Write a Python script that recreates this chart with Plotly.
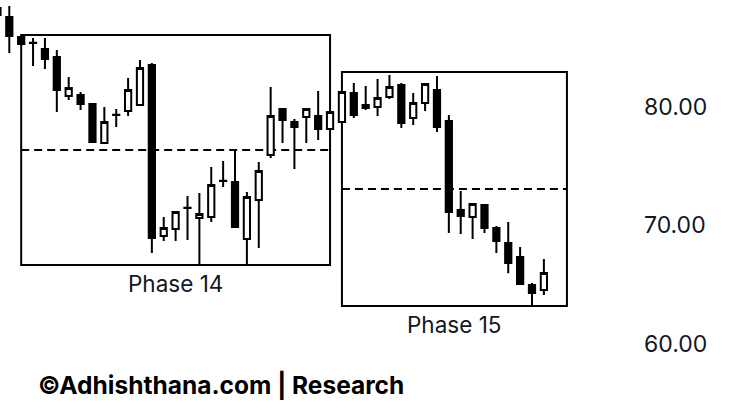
import plotly.graph_objects as go

# ---- data ----
bar_index = list(range(0, 47))
opens = [88.31, 87.55, 85.86, 85.38, 84.85, 84.18, 80.89, 80.97, 80.21, 76.92,
         79.30, 79.62, 80.13, 83.50, 69.07, 69.66, 71.45, 70.59, 70.68, 73.73,
         73.63, 68.82, 72.11, 75.91, 79.79, 78.69, 79.11, 79.20, 78.10, 78.69,
         81.14, 80.13, 79.96, 80.80, 81.81, 79.03, 80.30, 81.39, 78.78, 71.27,
         70.68, 71.69, 69.75, 68.48, 67.30, 64.94, 64.51]
highs = [89.30, 88.48, 85.90, 85.78, 85.78, 84.77, 82.49, 81.22, 80.30, 79.96,
         79.79, 82.41, 83.92, 83.67, 70.68, 71.18, 72.45, 72.70, 74.89, 75.40,
         76.33, 72.78, 75.32, 81.65, 79.79, 78.95, 79.87, 81.31, 79.54, 81.22,
         81.98, 81.73, 82.32, 82.66, 81.98, 81.14, 81.98, 82.57, 79.28, 72.87,
         71.86, 71.69, 69.92, 70.25, 68.14, 65.11, 67.13]
lows = [87.50, 84.51, 85.20, 83.42, 83.16, 79.54, 80.55, 79.70, 76.92, 76.92,
        78.27, 79.20, 80.13, 67.64, 68.65, 68.65, 68.73, 66.62, 70.25, 73.21,
        69.75, 66.62, 68.06, 75.65, 76.92, 74.73, 76.92, 77.17, 78.10, 78.69,
        79.03, 79.70, 79.20, 80.63, 78.19, 78.44, 79.62, 77.85, 69.32, 69.24,
        68.82, 69.32, 67.64, 65.94, 65.02, 63.14, 64.09]
closes = [87.72, 85.95, 85.27, 85.36, 84.01, 81.39, 81.56, 80.21, 77.00, 78.69,
          79.28, 81.39, 83.25, 68.90, 69.75, 71.10, 71.43, 70.93, 73.38, 73.71,
          69.83, 72.36, 74.56, 79.20, 78.86, 78.27, 79.79, 78.10, 79.54, 81.22,
          79.28, 79.87, 80.72, 81.65, 78.61, 80.30, 81.90, 78.27, 71.10, 70.76,
          71.77, 69.75, 68.65, 66.79, 65.02, 64.26, 65.95]

phase_names = ["Phase 14", "Phase 15"]
phase_start = [2, 29]
phase_end = [28, 47.94]
phase_low = [66.62, 63.16]
phase_high = [86.03, 82.91]

y_ticks = [60, 70, 80]
y_tick_labels = ["60.00", "70.00", "80.00"]
watermark = "©Adhishthana.com | Research"

fig = go.Figure()
fig.add_trace(go.Candlestick(
    x=bar_index, open=opens, high=highs, low=lows, close=closes,
    increasing=dict(line=dict(color="black", width=2), fillcolor="white"),
    decreasing=dict(line=dict(color="black", width=2), fillcolor="black"),
    whiskerwidth=0, showlegend=False, hoverinfo="skip",
))

shapes = []
annotations = []
for name, x0, x1, lo, hi in zip(phase_names, phase_start, phase_end, phase_low, phase_high):
    shapes.append(dict(type="rect", xref="x", yref="y", x0=x0, x1=x1, y0=lo, y1=hi,
                       line=dict(color="black", width=2), fillcolor="rgba(0,0,0,0)",
                       layer="below"))
    mid = (lo + hi) / 2
    shapes.append(dict(type="line", xref="x", yref="y", x0=x0, x1=x1, y0=mid, y1=mid,
                       line=dict(color="black", width=2, dash="8px,5px"), layer="below"))
    annotations.append(dict(x=(x0 + x1) / 2, y=lo, xref="x", yref="y", text=name,
                            showarrow=False, yanchor="top", yshift=-3,
                            font=dict(family="Inter, Roboto, sans-serif", size=22.5, color="#131722")))

annotations.append(dict(x=0.056, y=-0.07, xref="paper", yref="paper", text="<b>" + watermark + "</b>",
                        showarrow=False, xanchor="left", yanchor="middle",
                        font=dict(family="Inter, Roboto, sans-serif", size=24.5, color="black")))

fig.update_layout(
    width=730, height=418,
    margin=dict(l=0, r=95, t=0, b=58),
    paper_bgcolor="white", plot_bgcolor="white",
    boxgap=0.25,
    shapes=shapes, annotations=annotations,
    xaxis=dict(range=[0.217, 53.67], showgrid=False, zeroline=False, showticklabels=False,
               showline=False, ticks="", rangeslider=dict(visible=False), fixedrange=True),
    yaxis=dict(range=[58.61, 88.99], side="right", showgrid=False, zeroline=False,
               showline=False, ticks="", tickvals=y_ticks, ticktext=y_tick_labels,
               ticklabelstandoff=8, fixedrange=True,
               tickfont=dict(family="Inter, Roboto, sans-serif", size=23, color="#131722")),
)

fig.write_html("out.html", config={"displayModeBar": False},
               post_script="document.body.style.margin='0';")
